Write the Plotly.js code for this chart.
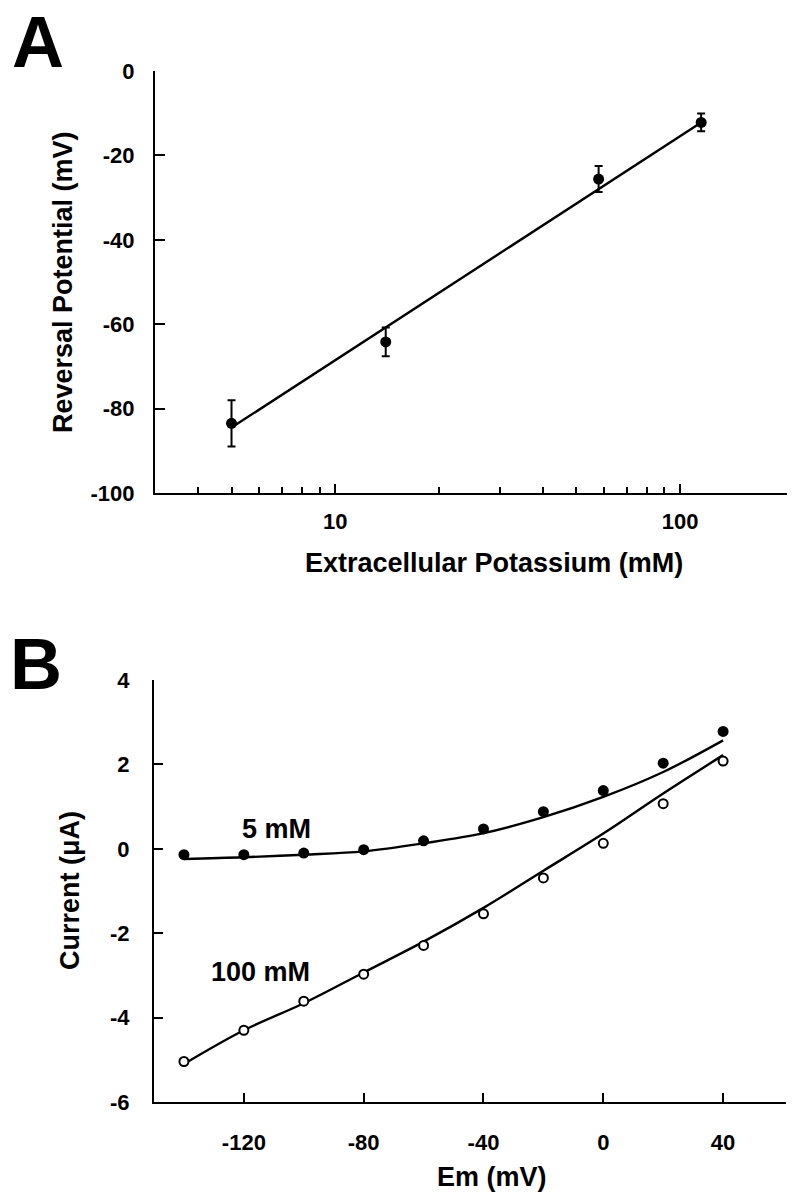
<!DOCTYPE html>
<html>
<head>
<meta charset="utf-8">
<script src="https://cdn.plot.ly/plotly-3.0.1.min.js"></script>
<style>html,body{margin:0;padding:0;background:#fff;}#chart{width:794px;height:1200px;}</style>
</head>
<body>
<div id="chart"></div>
<script>
// ---- Panel A data ----
const kOut = [5, 14, 58, 115];                 // extracellular K+ (mM)
const eRev = [-83.5, -64.2, -25.6, -12.2];     // reversal potential (mV)
const eRevErr = [5.5, 3.4, 3.1, 2.1];          // error (mV)
const fitK = [5, 115];
const fitE = [-84.5, -12.2];
const aXTicks = [10, 100];
const aXTickText = ['10', '100'];
const aXMinor = [4, 5, 6, 7, 8, 9, 20, 30, 40, 50, 60, 70, 80, 90];
const aYTicks = [0, -20, -40, -60, -80, -100];
const aYTickText = ['0', '-20', '-40', '-60', '-80', '-100'];

// ---- Panel B data ----
const em = [-140, -120, -100, -80, -60, -40, -20, 0, 20, 40];
const i5mM = [-0.14, -0.14, -0.10, -0.02, 0.19, 0.47, 0.88, 1.38, 2.03, 2.78];
const i100mM = [-5.04, -4.30, -3.61, -2.97, -2.29, -1.54, -0.69, 0.13, 1.07, 2.08];
const fit5mM = [-0.24, -0.20, -0.14, -0.06, 0.13, 0.37, 0.75, 1.23, 1.82, 2.57];
const fit100mM = [-5.10, -4.30, -3.66, -2.93, -2.20, -1.40, -0.52, 0.36, 1.31, 2.22];
const bXTicks = [-120, -80, -40, 0, 40];
const bXTickText = ['-120', '-80', '-40', '0', '40'];
const bYTicks = [4, 2, 0, -2, -4, -6];
const bYTickText = ['4', '2', '0', '-2', '-4', '-6'];

const FONT = 'Liberation Sans, Arial, Helvetica, sans-serif';
const W = 794, H = 1200;
const px = v => v / W;
const py = v => 1 - v / H;
const TITLE_SIZE = 27;

const traces = [
  {x: fitK, y: fitE, mode: 'lines', line: {color: '#000', width: 2.4}, xaxis: 'x', yaxis: 'y', hoverinfo: 'skip'},
  {x: kOut, y: eRev, mode: 'markers', marker: {color: '#000', size: 11},
   error_y: {type: 'data', array: eRevErr, visible: true, color: '#000', thickness: 2, width: 4},
   xaxis: 'x', yaxis: 'y'},
  {x: em, y: fit5mM, mode: 'lines', line: {color: '#000', width: 2.4, shape: 'spline'}, xaxis: 'x2', yaxis: 'y2', hoverinfo: 'skip'},
  {x: em, y: fit100mM, mode: 'lines', line: {color: '#000', width: 2.4, shape: 'spline'}, xaxis: 'x2', yaxis: 'y2', hoverinfo: 'skip'},
  {x: em, y: i5mM, mode: 'markers', marker: {color: '#000', size: 11}, xaxis: 'x2', yaxis: 'y2'},
  {x: em, y: i100mM, mode: 'markers', marker: {color: '#fff', size: 9, symbol: 'circle', line: {color: '#000', width: 2}}, xaxis: 'x2', yaxis: 'y2'}
];

const axCommon = {
  showline: true, linecolor: '#000', linewidth: 2,
  ticks: 'inside', tickcolor: '#000', tickwidth: 2,
  showgrid: false, zeroline: false, automargin: false,
  tickfont: {family: FONT, size: 22, color: '#000', weight: 'bold'}
};

const layout = {
  width: W, height: H,
  margin: {l: 0, r: 0, t: 0, b: 0},
  paper_bgcolor: '#fff', plot_bgcolor: '#fff',
  showlegend: false,
  xaxis: Object.assign({}, axCommon, {
    type: 'log', range: [Math.log10(3), Math.log10(204)],
    domain: [px(155), px(787)], anchor: 'y',
    tickmode: 'array', tickvals: aXTicks, ticktext: aXTickText, ticklen: 9,
    ticklabelstandoff: 8,
    minor: {tickmode: 'array', tickvals: aXMinor, ticks: 'inside', ticklen: 6, tickwidth: 2, tickcolor: '#000', showgrid: false}
  }),
  yaxis: Object.assign({}, axCommon, {
    range: [-100, 0], domain: [py(493), py(71)], anchor: 'x',
    tickmode: 'array', tickvals: aYTicks, ticktext: aYTickText, ticklen: 10, ticklabelstandoff: 14
  }),
  xaxis2: Object.assign({}, axCommon, {
    range: [-150, 61], domain: [px(154), px(786)], anchor: 'y2',
    tickmode: 'array', tickvals: bXTicks, ticktext: bXTickText, ticklen: 9, ticklabelstandoff: 20
  }),
  yaxis2: Object.assign({}, axCommon, {
    range: [-6, 4], domain: [py(1102), py(680)], anchor: 'x2',
    tickmode: 'array', tickvals: bYTicks, ticktext: bYTickText, ticklen: 9, ticklabelstandoff: 18
  }),
  annotations: [
    {text: 'A', xref: 'paper', yref: 'paper', x: px(37.5), y: py(42), xanchor: 'center', yanchor: 'middle', showarrow: false,
     font: {family: FONT, size: 72, color: '#000', weight: 'bold'}},
    {text: 'B', xref: 'paper', yref: 'paper', x: px(35.5), y: py(664), xanchor: 'center', yanchor: 'middle', showarrow: false,
     font: {family: FONT, size: 72, color: '#000', weight: 'bold'}},
    {text: 'Reversal Potential (mV)', xref: 'paper', yref: 'paper', x: px(63), y: py(282), textangle: -90,
     xanchor: 'center', yanchor: 'middle', showarrow: false, font: {family: FONT, size: TITLE_SIZE, color: '#000', weight: 'bold'}},
    {text: 'Extracellular Potassium (mM)', xref: 'paper', yref: 'paper', x: px(494), y: py(563),
     xanchor: 'center', yanchor: 'middle', showarrow: false, font: {family: FONT, size: TITLE_SIZE, color: '#000', weight: 'bold'}},
    {text: 'Current (μA)', xref: 'paper', yref: 'paper', x: px(70), y: py(891), textangle: -90,
     xanchor: 'center', yanchor: 'middle', showarrow: false, font: {family: FONT, size: TITLE_SIZE, color: '#000', weight: 'bold'}},
    {text: 'Em (mV)', xref: 'paper', yref: 'paper', x: px(492), y: py(1177),
     xanchor: 'center', yanchor: 'middle', showarrow: false, font: {family: FONT, size: TITLE_SIZE, color: '#000', weight: 'bold'}},
    {text: '5 mM', xref: 'x2', yref: 'y2', x: -109, y: 0.46, xanchor: 'center', yanchor: 'middle', showarrow: false,
     font: {family: FONT, size: TITLE_SIZE, color: '#000', weight: 'bold'}},
    {text: '100 mM', xref: 'x2', yref: 'y2', x: -114.4, y: -2.93, xanchor: 'center', yanchor: 'middle', showarrow: false,
     font: {family: FONT, size: TITLE_SIZE, color: '#000', weight: 'bold'}}
  ]
};

Plotly.newPlot('chart', traces, layout, {staticPlot: true, displayModeBar: false});
</script>
</body>
</html>
